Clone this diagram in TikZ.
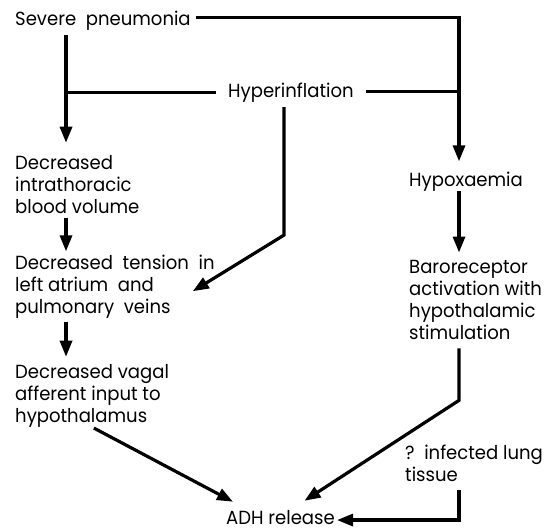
\documentclass[tikz,border=0pt]{standalone}
\usepackage{fontspec}
\setmainfont[FakeStretch=0.95]{Poppins}
\usetikzlibrary{arrows.meta, positioning}

\begin{document}
\begin{tikzpicture}[x=1pt, y=1pt,
    >={Triangle[width=12pt,length=16pt]},
    txt/.style ={anchor=base west, align=left, inner sep=0pt,
                 font=\fontsize{19}{22}\selectfont},
    link/.style={line width=3.2pt},
    flow/.style={link, ->},
]
\useasboundingbox (0,0) rectangle (548,-530);
\coordinate (lcol) at (66,0);
\coordinate (rcol) at (459,0);
% left column
\node[txt] (sev) at (15,-25) {Severe\ \ pneumonia};
\node[txt] (dec) at (15,-213) {Decreased\\intrathoracic\\blood volume};
\node[txt] (dtens) at (15,-313) {Decreased\ \ tension\ \ in\\left atrium\ \ and\\pulmonary\ \ veins};
\node[txt] (dvag) at (15,-422) {Decreased vagal\\afferent input to\\hypothalamus};
% middle
\node[txt] (hyper) at (228,-97) {Hyperinflation};
\node[txt] (adh) at (226,-524) {ADH release};
% right column
\node[txt] (hypox) at (409,-186) {Hypoxaemia};
\node[txt] (baro) at (409,-339) {Baroreceptor\\activation with\\hypothalamic\\stimulation};
\node[txt] (inf) at (405,-481) {?\ \ infected lung\\tissue};
% connectors
\draw[flow, shorten <=5pt, shorten >=10pt] ([yshift=3pt]sev.east) -| (hypox.north -| rcol);
\draw[flow, shorten <=5pt, shorten >=12pt] (sev.south -| lcol) -- (dec.north -| lcol);
\draw[link, shorten <=12pt] (hyper.west) -- (hyper.west -| lcol);
\draw[link, shorten <=12pt] ([yshift=1pt]hyper.east) -- ([yshift=1pt]hyper.east -| rcol);
\draw[flow, shorten <=5pt] ([xshift=-7pt]hyper.south) -- ++(0,-133)
     -- ([xshift=-22pt,yshift=-5pt]dtens.east);
\draw[flow, shorten <=5pt, shorten >=3pt] (dec.south -| lcol) -- (dtens.north -| lcol);
\draw[flow, shorten <=4pt, shorten >=7pt] (dtens.south -| lcol) -- (dvag.north -| lcol);
\draw[flow, shorten <=2pt] (dvag.south) -- ([xshift=7pt,yshift=8pt]adh.north west);
\draw[flow, shorten >=7pt] (hypox.south -| rcol) -- (baro.north -| rcol);
\draw[flow, shorten <=9pt] (baro.south -| rcol) -- ++(0,-61)
     -- ([xshift=24pt,yshift=9pt]adh.north);
\draw[flow, shorten <=9pt, shorten >=2pt] (inf.south -| rcol) |- ([yshift=-3pt]adh.east);
\end{tikzpicture}
\end{document}
